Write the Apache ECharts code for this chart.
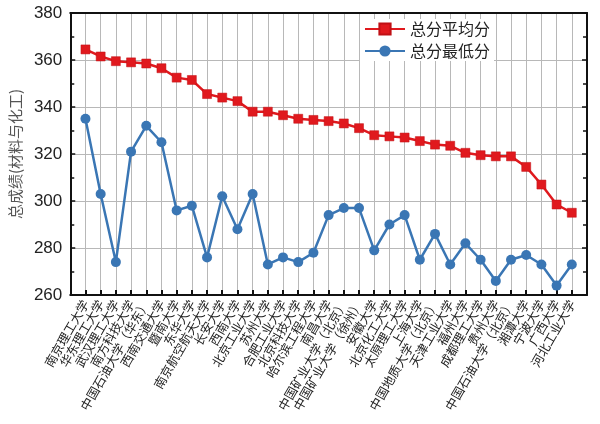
<!DOCTYPE html>
<html><head><meta charset="utf-8">
<script src="https://cdn.jsdelivr.net/npm/echarts@6/dist/echarts.min.js"></script>
<style>html,body{margin:0;padding:0;background:#fff}#c{width:600px;height:424px}</style>
</head><body><div id="c"></div>
<script>
const categories = ['南京理工大学','华东理工大学','武汉理工大学','南方科技大学','中国石油大学（华东）','西南交通大学','暨南大学','东华大学','南京航空航天大学','长安大学','西南大学','北京工业大学','苏州大学','合肥工业大学','北京科技大学','哈尔滨工程大学','南昌大学','中国矿业大学（北京）','中国矿业大学（徐州）','安徽大学','北京化工大学','太原理工大学','上海大学','中国地质大学（北京）','天津工业大学','福州大学','成都理工大学','贵州大学','中国石油大学（北京）','湘潭大学','宁波大学','广西大学','河北工业大学'];
const avgScores = [364.5,361.5,359.5,359,358.5,356.5,352.5,351.5,345.5,344,342.5,338,338,336.5,335,334.5,334,333,331,328,327.5,327,325.5,324,323.5,320.5,319.5,319,319,314.5,307,298.5,295];
const minScores = [335,303,274,321,332,325,296,298,276,302,288,303,273,276,274,278,294,297,297,279,290,294,275,286,273,282,275,266,275,277,273,264,273];
const seriesNames = ['总分平均分','总分最低分'];
const yName = '总成绩(材料与化工)';

const cjk = '"Noto Sans CJK SC", sans-serif';
const num = '"Liberation Sans", Arial, sans-serif';
const gridColor = '#b8b8b8';
const chart = echarts.init(document.getElementById('c'));
chart.setOption({
  animation: false,
  backgroundColor: '#fff',
  grid: {left: 61, right: 13, top: 13, bottom: 129},
  legend: {
    right: 106, top: 19, orient: 'vertical', itemGap: 6,
    itemWidth: 40, itemHeight: 14,
    backgroundColor: '#fff', padding: [2, 4, 2, 4],
    textStyle: {fontFamily: cjk, fontSize: 16, color: '#222'},
    data: seriesNames
  },
  xAxis: [{
    type: 'value', min: -1, max: 33, interval: 1,
    axisLine: {show: true, onZero: false, lineStyle: {color: '#111', width: 2}},
    axisTick: {show: true, inside: true, length: 5, lineStyle: {color: '#111', width: 2}},
    splitLine: {show: true, lineStyle: {color: gridColor, width: 1, type: 'solid'}},
    axisLabel: {
      rotate: 60, fontFamily: cjk, fontSize: 12.5, color: '#222', margin: 6,
      formatter: v => (Number.isInteger(v) && categories[v]) ? categories[v] : ''
    }
  }, {
    type: 'value', position: 'top', min: -1, max: 33, interval: 1,
    axisLine: {show: true, onZero: false, lineStyle: {color: '#111', width: 2}},
    axisTick: {show: false}, axisLabel: {show: false}, splitLine: {show: false}
  }],
  yAxis: [{
    type: 'value', min: 260, max: 380, interval: 20,
    name: yName, nameLocation: 'middle', nameGap: 45, nameRotate: 90,
    nameTextStyle: {fontFamily: cjk, fontSize: 15, color: '#555'},
    axisLine: {show: true, onZero: false, lineStyle: {color: '#111', width: 2}},
    axisTick: {show: true, inside: true, length: 5, lineStyle: {color: '#111', width: 1.5}},
    minorTick: {show: true, splitNumber: 2, length: 4, lineStyle: {color: '#111', width: 1.5}},
    splitLine: {show: true, lineStyle: {color: gridColor, width: 1, type: 'solid'}},
    axisLabel: {fontFamily: num, fontSize: 17, color: '#222', margin: 8}
  }, {
    type: 'value', position: 'right', min: 260, max: 380, interval: 20,
    axisLine: {show: true, onZero: false, lineStyle: {color: '#111', width: 2}},
    axisTick: {show: true, inside: true, length: 5, lineStyle: {color: '#111', width: 1.5}},
    minorTick: {show: true, splitNumber: 2, length: 4, lineStyle: {color: '#111', width: 1.5}},
    splitLine: {show: false}, axisLabel: {show: false}
  }],
  series: [{
    name: seriesNames[0], type: 'line',
    data: avgScores.map((v, i) => [i, v]),
    symbol: 'rect', symbolSize: 9,
    lineStyle: {color: '#e0191e', width: 2.5},
    itemStyle: {color: '#e0191e', borderColor: '#c01015', borderWidth: 0.5},
    z: 3
  }, {
    name: seriesNames[1], type: 'line',
    data: minScores.map((v, i) => [i, v]),
    symbol: 'circle', symbolSize: 10,
    lineStyle: {color: '#3a76b4', width: 2.5},
    itemStyle: {color: '#3a76b4'},
    z: 3
  }]
});
</script></body></html>
